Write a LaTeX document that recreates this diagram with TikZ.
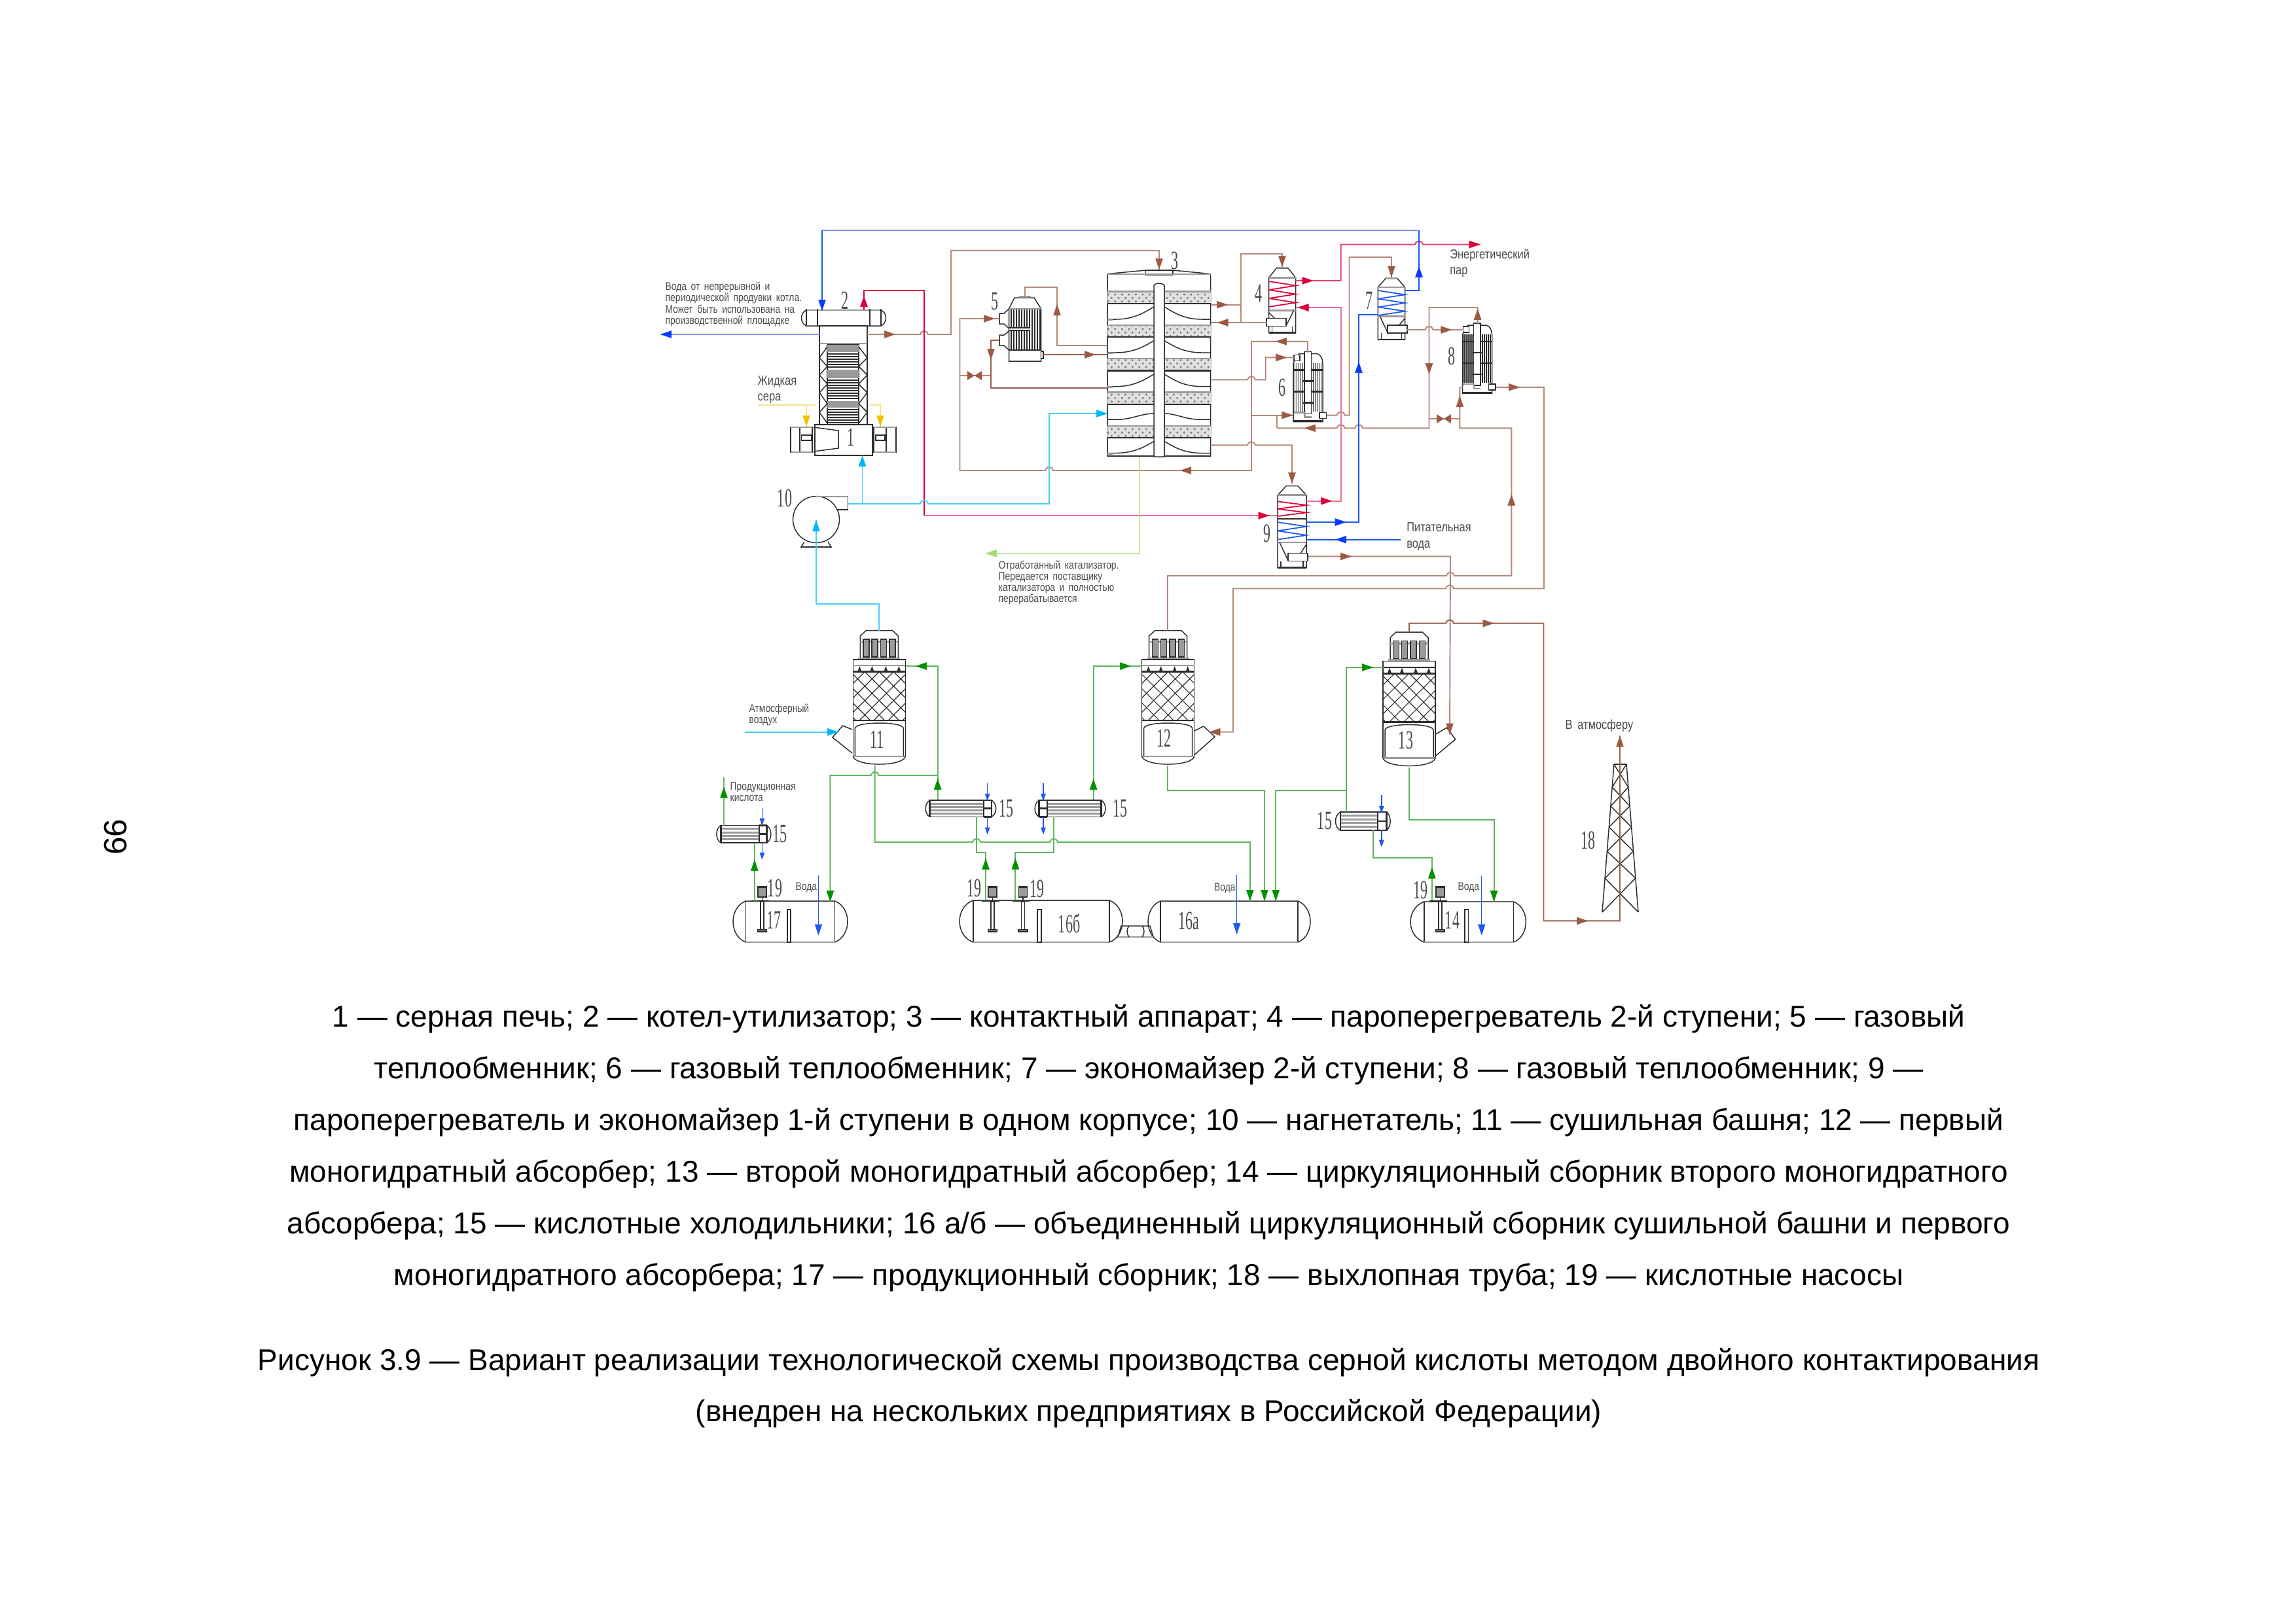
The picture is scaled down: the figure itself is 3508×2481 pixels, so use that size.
\documentclass[tikz,border=0pt]{standalone}
\usepackage{fontspec}
\usepackage{xcolor}
\setmainfont{Liberation Sans}
\newfontfamily\numfont[FakeStretch=0.55]{Liberation Serif}
\newfontfamily\notefont[FakeStretch=0.82,WordSpace=1.7]{Liberation Sans}
\usetikzlibrary{arrows.meta, patterns}

\definecolor{unitgrey}{HTML}{2E2E2E}
\definecolor{bandgrey}{HTML}{9A9A9A}
\definecolor{labelgrey}{HTML}{4A4A4A}
\definecolor{gasline}{HTML}{B28A79}
\definecolor{gastip}{HTML}{9C5A43}
\definecolor{gasdark}{HTML}{96604C}
\definecolor{steamline}{HTML}{E8406A}
\definecolor{steamlight}{HTML}{EC6F8F}
\definecolor{steamtip}{HTML}{DC0038}
\definecolor{waterline}{HTML}{1E58F0}
\definecolor{waterlight}{HTML}{7C9BF5}
\definecolor{watertip}{HTML}{0A3CFF}
\definecolor{airline}{HTML}{45CFFA}
\definecolor{airtip}{HTML}{00B8F8}
\definecolor{acidline}{HTML}{5DB85D}
\definecolor{acidtip}{HTML}{009000}
\definecolor{sulfurline}{HTML}{F7E484}
\definecolor{sulfurtip}{HTML}{EDC400}
\definecolor{catline}{HTML}{C5E8A5}
\definecolor{cattip}{HTML}{A5DD70}

\tikzset{
    unitline/.style={draw=unitgrey, line width=0.42pt},
    latticeline/.style={draw=unitgrey, line width=0.34pt},
    boldline/.style={draw=unitgrey, line width=0.8pt},
    greyline/.style={draw=bandgrey, line width=0.8pt},
    pipe/.style={line width=0.55pt},
    flowtip/.style={line width=0.2pt, -{Triangle[length=1.7mm,width=1.15mm]}},
    smalltip/.style={line width=0.4pt, -{Triangle[length=1.1mm,width=0.75mm]}},
    numlabel/.style={font=\numfont\fontsize{11.4}{12}\selectfont, text=labelgrey, inner sep=0pt},
    smallnote/.style={font=\notefont\fontsize{4.8}{4.92}\selectfont, text=labelgrey, inner sep=0pt, anchor=west, align=left},
    midnote/.style={font=\notefont\fontsize{5.7}{6}\selectfont, text=labelgrey, inner sep=0pt, anchor=west, align=left},
    legendline/.style={font=\fontsize{13.08}{15}\selectfont, inner sep=0pt, anchor=base}
}

% pipe jumps over a crossing line
\newcommand{\hopr}[2]{-- ({#1-6},#2) .. controls ({#1-4},{#2-7}) and ({#1+4},{#2-7}) .. ({#1+6},#2)}
\newcommand{\hopl}[2]{-- ({#1+6},#2) .. controls ({#1+4},{#2-7}) and ({#1-4},{#2-7}) .. ({#1-6},#2)}

\newcommand{\valveh}[3]{\fill[gastip] (#1-11,#2-7) -- (#1-11,#2+7) -- (#1+11,#2-7) -- (#1+11,#2+7) -- cycle;}
\newcommand{\valvev}[2]{\fill[gastip] (#1-7,#2-14) -- (#1+7,#2-14) -- (#1-7,#2+14) -- (#1+7,#2+14) -- cycle;}

% zigzag coil: xl xr ytop ybot turns colour
\newcommand{\coil}[6]{
    \foreach \k in {1,...,#5} {
        \draw[#6, line width=0.5pt] (#1,{#3+(\k-1)*(#4-#3)/#5}) -- (#2,{#3+(\k-0.5)*(#4-#3)/#5}) -- (#1,{#3+\k*(#4-#3)/#5});
    }
}

% coil vessel: centre halfwidth ycap yshoulder yhopper ybottom side
\newcommand{\shellunit}[7]{
    \begin{scope}[shift={(#1,0)}, xscale=#7]
    \draw[unitline] (-#2,#6) -- (-#2,#4) -- (-9,#3+2) -- (9,#3+2) -- (#2,#4) -- (#2,#6) -- cycle;
    \fill[bandgrey] (-9,#3) rectangle (9,#3+2);
    \draw[greyline] (-#2,#4) -- (#2,#4);
    \draw[greyline] (-#2,#5) -- (#2,#5);
    \draw[unitline] (-#2+3,#5) -- (-6,#6-11);
    \draw[unitline, fill=white] (-6,#6-22) rectangle (24,#6-10);
    \draw[unitline] (#2,#5+3) -- (#2-9,#6-22);
    \draw[boldline] (-#2,#6) -- (#2,#6);
    \draw[unitline] (-#2+5,#6-10) -- (-#2+5,#6);
    \draw[unitline] (#2-5,#6-10) -- (#2-5,#6);
    \end{scope}
}

% tube exchanger, from the top centre
\newcommand{\tubeunit}[2]{
    \begin{scope}[shift={(#1,#2)}]
    \draw[unitline] (-22.5,104) -- (-22.5,14) -- (-14,0) -- (14,0) .. controls (20,2) and (22,8) .. (22.5,14) -- (22.5,104) -- cycle;
    \foreach \tx in {-20,-17,-14,-11,-8,8,11,14,17,20} {\draw[unitline] (\tx,14) -- (\tx,88);}
    \draw[unitline, fill=white] (-5.5,-3) rectangle (5,92);
    \draw[boldline] (-22,25) -- (-5.5,25);
    \draw[boldline] (5,25) -- (22,25);
    \draw[boldline] (-9,42) -- (9,42);
    \draw[boldline] (-22,58) -- (-5.5,58);
    \draw[boldline] (5,58) -- (22,58);
    \draw[boldline] (-9,75) -- (9,75);
    \draw[unitline, fill=white] (-21.5,2) rectangle (-12.5,11);
    \draw[greyline] (-22,90) -- (-5,90) -- (-5,97) -- (5,97);
    \draw[boldline] (-22.5,103) -- (22.5,103);
    \draw[unitline, fill=white] (17.5,90) rectangle (28,99);
    \end{scope}
}

% absorber tower, centre and vertical offset
\newcommand{\tower}[2]{
    \begin{scope}[shift={(#1,#2)}]
    \draw[unitline] (-29,1006) -- (-29,972) -- (-20,963.5) -- (20,963.5) -- (29,972) -- (29,1006);
    \draw[greyline] (-32,1006) -- (32,1006);
    \draw[greyline] (-29,981) -- (29,981);
    \foreach \cx in {-24.4,-11.4,2.2,15.6} {
        \draw[unitline, fill=bandgrey] (\cx,977) rectangle ++(9,27);
    }
    \draw[unitline] (-40,1008) rectangle (40,1156);
    \foreach \cx in {-30,-11,10,30} {
        \fill[unitgrey] (\cx-3,1026) -- (\cx,1018) -- (\cx+3,1026) -- cycle;
    }
    \begin{scope}
    \clip (-40,1026.6) rectangle (40,1100);
    \foreach \k in {-6,...,6} {
        \draw[latticeline] ({\k*22},1026.6) -- ++(73.4,73.4);
        \draw[latticeline] ({\k*22},1026.6) -- ++(-73.4,73.4);
    }
    \end{scope}
    \draw[boldline] (-40,1026.6) -- (40,1026.6);
    \draw[boldline] (-40,1101) -- (40,1101);
    \draw[unitline] (-37,1156) -- (-37,1113) .. controls (-36,1107) and (-15,1105) .. (0,1105) .. controls (15,1105) and (36,1107) .. (37,1113) -- (37,1156);
    \draw[greyline] (-40,1156) -- (40,1156);
    \draw[unitline] (-40,1156) .. controls (-36,1172) and (36,1172) .. (40,1156);
    \end{scope}
}

% horizontal cooler: xl f1 f3 xr yt yb box1 box2
\newcommand{\cooler}[8]{
    \draw[unitline] (#2,#5) .. controls (#1-2,#5+5) and (#1-2,#6-5) .. (#2,#6);
    \draw[unitline] (#3,#5) .. controls (#4+2,#5+5) and (#4+2,#6-5) .. (#3,#6);
    \draw[unitline] (#2,#5) rectangle (#3,#6);
    \foreach \f in {0.2,0.4,0.6,0.8} {\draw[greyline] (#2,{#5+\f*(#6-#5)}) -- (#3,{#5+\f*(#6-#5)});}
    \fill[white] (#7,#5) rectangle (#8,#6);
    \draw[boldline] (#7,{(#5+#6)/2}) -- (#8,{(#5+#6)/2});
    \foreach \f in {#2,#3,#7,#8} {\draw[boldline] (\f,#5-1) -- (\f,#6+1);}
    \draw[boldline] (#7,#5) -- (#8,#5);
    \draw[boldline] (#7,#6) -- (#8,#6);
}

% horizontal tank: xl xa xb xr yt yb
\newcommand{\tank}[6]{
    \draw[unitline] (#2,#5) .. controls ({#2+(#1-#2)*1.33},#5+10) and ({#2+(#1-#2)*1.33},#6-10) .. (#2,#6) -- (#3,#6) .. controls ({#3+(#4-#3)*1.33},#6-10) and ({#3+(#4-#3)*1.33},#5+10) .. (#3,#5) -- cycle;
    \draw[unitline] (#2,#5) -- (#2,#6);
    \draw[unitline] (#3,#5) -- (#3,#6);
    \draw[greyline] (#2,#6) -- (#3,#6);
}

\newcommand{\pump}[1]{
    \draw[unitline, fill=bandgrey] (#1-6.5,1354.5) rectangle (#1+6.5,1371);
    \draw[boldline] (#1-6.5,1355.5) -- (#1+6.5,1355.5);
    \draw[unitline] (#1,1371) -- (#1,1376);
    \draw[boldline] (#1-16.5,1377) -- (#1+10,1377);
    \draw[unitline] (#1-2.5,1378) rectangle (#1+2.5,1421);
    \draw[unitline, fill=bandgrey] (#1-7,1421) rectangle (#1+7,1424);
}

\newcommand{\baffle}[2]{\draw[unitline, fill=white] (#1,1390) rectangle (#2,1440);}

\begin{document}
\begin{tikzpicture}[x=0.01cm, y=-0.01cm]
\useasboundingbox (0,0) rectangle (3508,2481);

% ports
\foreach \pname/\px/\py in {
    drumin/1256/474, drumsteam/1320/474, boilerblue/1253/511, boilergas/1325/511, blowdown/1009/511,
    sulfurin/1158/619, sulfurwall/1246/619, sulfurbr/1232/619, sulfurhi/1329/619, sulfurend/1345/652, sulfurtipa/1232/652,
    fanout/1296/770, furnacein/1317.5/696, fanbranch/1317.5/770, fanin/1247/795,
    colgas/1771/412, colair/1692/632, col5a/1692/528, col5b/1692/542, col5c/1692/593,
    col1out/1849.5/465.7, col1ret/1849.5/493, col2out/1849.5/580.4, col3out/1849.5/680.4, colbottom/1741/698, catout/1506/845.7,
    hx5topout/1565.6/455, hx5a/1527/487, hx5b/1527/520, hx5c/1594/542,
    hx4top/1959/408, hx4ret/1935.6/493, hx4steam/1979.7/429, hx4back/1979.7/470, steamout/2261.5/373.6,
    hx6in/1977/546.4, hx6top/1998/539, hx6low/1975.4/634.6, hx6out/2026.6/634.6,
    hx7top/2126/423.6, hx7blue/2105.5/481, hx7steam/2146.7/444, hx7out/2149/504,
    hx8in/2236/504, hx8top/2257.6/496, hx8low/2235/592.5, hx8out/2286/591.8,
    hx9top/1974/739, hx9steamin/1952/788, hx9steamout/1996/765.7, hx9blueout/1996/798, hx9bluein/1996/824.6, hx9gas/1999/850.4, feedwater/2139.5/824.6,
    t11top/1343.4/963.5, t11air/1281/1118.7, airin/1138/1118.7, t11spray/1383.6/1018, t11drain/1336.7/1169.5,
    t12top/1784/963.5, t12gas/1847.4/1118.7, t12spray/1745/1018, t12drain/1784/1169.5,
    t13top/2153/965.7, t13gas/2215/1122.5, t13spray/2113.5/1020, t13drain/2153/1172.5,
    ca-top/1432.7/1222, ca-low/1491.6/1248, cb-top/1670.6/1222, cb-low/1610/1248,
    cc-top/1106/1261.6, cc-low/1152.8/1288, product/1106/1187.5, cd-top/2056.6/1241, cd-low/2098.4/1269,
    jn-a/1432.7/1185, jn-b/2056.6/1208,
    t17in/1268.4/1378, t17pump/1152.8/1377, t16bp1/1506/1375.5, t16bp2/1551.4/1375.5,
    t16a1/1909.8/1377, t16a2/1932/1377, t16a3/1949.3/1377, t14pump/2187.8/1375.5, t14in/2282.6/1378,
    stacktop/2475/1124.4,
    wa1/1508.6/1196.5, wa2/1508.6/1224, wa3/1508.6/1248.4, wa4/1508.6/1275.5,
    wb1/1594/1196.5, wb2/1594/1224, wb3/1594/1248.4, wb4/1594/1275.5,
    wc1/1164.4/1235, wc2/1164.4/1261.6, wc3/1164.4/1288, wc4/1164.4/1314,
    wd1/2110.8/1214.6, wd2/2110.8/1242.8, wd3/2110.8/1269, wd4/2110.8/1294.7,
    ws1/1250.5/1338, ws2/1250.5/1429.6, ws3/1889.7/1337, ws4/1889.7/1428, ws5/2263.7/1338.6, ws6/2263.7/1429.6} {
    \coordinate (\pname) at (\px,\py);
}

% boiler 2 with furnace 1
\draw[unitline] (1232,474) .. controls (1222,478) and (1222,494) .. (1232,498) -- (1346,498) .. controls (1356,494) and (1356,478) .. (1346,474) -- cycle;
\draw[greyline] (1232,474) -- (1346,474);
\foreach \fx in {1232,1249,1329,1346} {\draw[boldline] (\fx,472) -- (\fx,499);}
\draw[unitline] (1252,498) rectangle (1325,649);
\draw[greyline] (1252,525) -- (1325,525);
\draw[unitline] (1264,527) rectangle (1312,649);
\foreach \ba/\bb in {527/538, 565/578, 613/623} {\fill[bandgrey] (1264,\ba) rectangle (1312,\bb);}
\foreach \sy in {541,545,...,563, 581,585,...,611, 626,630,...,648} {\draw[unitline] (1264,\sy) -- (1312,\sy);}
\draw[unitline] (1264,530) -- (1252,546.7) -- (1264,560) -- (1252,573) -- (1264,587) -- (1252,600) -- (1264,617) -- (1252,630) -- (1264,647);
\draw[unitline] (1312,530) -- (1325,546.7) -- (1312,560) -- (1325,573) -- (1312,587) -- (1325,600) -- (1312,617) -- (1325,630) -- (1312,647);
\draw[unitline] (1245,649) rectangle (1333,696);
\draw[boldline] (1245,696) -- (1333,696);
\draw[unitline] (1243,653) -- (1281,658) -- (1281,685) -- (1243,690);
\foreach \fx in {1208,1222,1241,1335,1354,1369} {\draw[boldline] (\fx,652) -- (\fx,692);}
\draw[greyline] (1208,653) -- (1241,653);
\draw[greyline] (1208,691) -- (1241,691);
\draw[greyline] (1335,653) -- (1369,653);
\draw[greyline] (1335,691) -- (1369,691);
\draw[unitline] (1224.5,665) rectangle (1240,673);
\draw[unitline] (1338,665) rectangle (1352,673);

% fan 10
\draw[unitline] (1247,794) circle (35.5);
\draw[greyline] (1247,759) -- (1295.7,759);
\draw[unitline] (1295.7,759) -- (1295.7,779);
\draw[boldline] (1295.7,779) -- (1278,779);
\draw[unitline] (1229,828) -- (1224,836) -- (1270,836) -- (1265,828);
\draw[boldline] (1224,836) -- (1270,836);

% exchanger 5
\draw[unitline] (1541.5,472) -- (1550,455) -- (1580,455) -- (1590.6,472) -- (1590.6,552) -- (1541.5,552) -- cycle;
\fill[bandgrey] (1557,452) rectangle (1575,455);
\foreach \tx in {1545,1549,...,1589} {\draw[unitline] (\tx,473) -- (\tx,534);}
\draw[greyline] (1541.5,472) -- (1590.6,472);
\draw[boldline] (1541.5,535) -- (1590.6,535);
\fill[white] (1541.5,501) rectangle (1575,505);
\draw[boldline] (1541.5,501) -- (1574,501);
\draw[boldline] (1541.5,505) -- (1574,505);
\draw[unitline, fill=white] (1590.6,537) rectangle (1594,548);
\draw[unitline] (1541.5,472) -- (1534,479) -- (1527,479) -- (1527,495) -- (1534,495) -- (1541.5,502);
\draw[unitline] (1541.5,506) -- (1534,512) -- (1527,512) -- (1527,528) -- (1534,528) -- (1541.5,535);

% contact column 3
\draw[unitline] (1692,698) -- (1692,418.6) -- (1750.5,413) -- (1792,413) -- (1849.5,418.6) -- (1849.5,698);
\draw[unitline, fill=white] (1750.5,413) rectangle (1792,420);
\draw[greyline] (1692,419) -- (1849.5,419);
\foreach \ba/\bb in {445.4/464, 497/515, 548/566.4, 599.6/618, 651/669} {
    \fill[black!12] (1692,\ba) rectangle (1849.5,\bb);
    \draw[draw=none, pattern=crosshatch dots, pattern color=gray] (1692,\ba) rectangle (1763,\bb);
    \draw[draw=none, pattern=crosshatch dots, pattern color=gray] (1779,\ba) rectangle (1849.5,\bb);
    \draw[greyline] (1692,\ba) -- (1849.5,\ba);
    \draw[boldline] (1692,\bb) -- (1849.5,\bb);
}
\foreach \pa/\pb in {488/469, 539/520.7, 590.7/572, 692.5/674.6} {
    \draw[unitline] (1692,\pa) -- (1705,\pa) .. controls (1735,\pa) and (1752,\pb+6) .. (1763,\pb);
    \draw[unitline] (1849.5,\pa) -- (1836,\pa) .. controls (1806,\pa) and (1790,\pb+6) .. (1779,\pb);
    \draw[greyline] (1692,\pa+1) -- (1700,\pa+1);
}
\draw[unitline] (1692,641) -- (1712,641) .. controls (1730,640) and (1745,632) .. (1763,632);
\draw[unitline] (1849.5,641) -- (1829,641) .. controls (1810,640) and (1795,632) .. (1779,632);
\draw[boldline] (1692,697) -- (1849.5,697);
\draw[unitline, fill=white] (1763,698) -- (1763,436) .. controls (1766,432) and (1776,432) .. (1779,436) -- (1779,698) -- cycle;

% vessels 4, 7, 9 and exchangers 6, 8
\shellunit{1959.1}{20.6}{408}{424.6}{474.6}{508.6}{-1}
\coil{1938.5}{1979.7}{430}{469}{3}{steamtip}
\shellunit{2126}{20.6}{423.6}{439}{483.6}{519}{1}
\coil{2105.5}{2146.7}{444}{482}{3}{waterline}
\shellunit{1974}{22}{740.7}{756.8}{829}{867.5}{1}
\coil{1952}{1996}{766.4}{789}{2}{steamtip}
\draw[boldline] (1952,793) -- (1996,793);
\coil{1952}{1996}{798}{824.6}{2}{waterline}
\tubeunit{1998.5}{540.7}
\tubeunit{2257}{497}

% towers 11, 12, 13
\tower{1343.4}{0}
\draw[greyline] (1303.4,1017) -- (1383.4,1017);
\draw[unitline] (1302,1115) -- (1287.6,1109) -- (1272,1127) -- (1302,1151);
\tower{1784.7}{0}
\draw[greyline] (1744.7,1017) -- (1824.7,1017);
\draw[unitline] (1825,1117) -- (1839,1110) -- (1856,1126) -- (1825,1153.7);
\tower{2153}{2.5}
\draw[boldline] (2113,1020) -- (2193,1020);
\draw[unitline] (2193,1122.5) -- (2210.6,1112) -- (2223.6,1130) -- (2193,1155.6);

% coolers 15
\cooler{1414}{1420.6}{1515}{1522}{1223}{1248.4}{1503}{1515}
\cooler{1581}{1587.6}{1682.7}{1689}{1223}{1248.4}{1587.6}{1600}
\cooler{1094.7}{1101.4}{1171.5}{1178}{1261.6}{1288}{1160}{1171.5}
\cooler{2040}{2048}{2118.4}{2124}{1241}{1269}{2105}{2118.4}

% tanks and pumps
\tank{1120}{1139.4}{1275.5}{1295}{1377}{1440}
\tank{1466}{1487}{1695}{1715}{1376}{1440}
\tank{1754}{1773}{1983}{2002}{1377}{1440}
\tank{2155}{2176}{2312.5}{2331.4}{1378}{1440}
\baffle{1202.8}{1208}
\baffle{1585}{1591}
\baffle{2238}{2243.6}
\pump{1164.5}
\pump{1516.5}
\pump{1563}
\pump{2200.5}
\draw[unitline] (1708,1432) -- (1713,1415) -- (1757,1415) -- (1762,1432) -- cycle;
\draw[greyline] (1708,1432) -- (1762,1432);
\draw[unitline] (1725,1415) .. controls (1721,1420) and (1721,1427) .. (1725,1432);
\draw[unitline] (1745,1415) .. controls (1749,1420) and (1749,1427) .. (1745,1432);

% stack 18
\draw[unitline] (2466,1168) -- (2448,1394);
\draw[unitline] (2485,1168) -- (2503,1394);
\draw[boldline] (2466,1168) -- (2485,1168);
\foreach \yb [remember=\yb as \ya (initially 1168)] in {1203,1232,1264,1301,1342,1394} {
    \pgfmathsetmacro{\wa}{9.5+(\ya-1168)*18/226}
    \pgfmathsetmacro{\wb}{9.5+(\yb-1168)*18/226}
    \draw[unitline] ({2475.5-\wa},\ya) -- ({2475.5+\wb},\yb);
    \draw[unitline] ({2475.5+\wa},\ya) -- ({2475.5-\wb},\yb);
}

% gas pipes
\draw[pipe, gasline] (boilergas) \hopr{1412}{511} -- (1453,511) -- (1453,383) -- (1771,383) -- (colgas);
\draw[pipe, gasline] (col1ret) -- (hx4ret);
\draw[pipe, gasline] (col1out) -- (1896.4,465.7) -- (1896.4,388) -- (1959,388) -- (hx4top);
\draw[pipe, gasline] (1896.4,465.7) -- (1896.4,493);
\draw[pipe, gasline] (col2out) \hopr{1912}{580.4} -- (1933.7,580.4) -- (1933.7,546.4) -- (hx6in);
\draw[pipe, gasline] (col3out) \hopr{1912}{680.4} -- (1974,680.4) -- (hx9top);
\draw[pipe, gasline] (1912,634.6) -- (hx6low);
\draw[pipe, gasline] (1951.4,634.6) -- (1951.4,654.3);
\draw[pipe, gasline] (hx6top) -- (1998,521.8) -- (1912,521.8) -- (1912,719) \hopl{1603}{719} -- (1466.5,719) -- (1466.5,487) -- (hx5a);
\draw[pipe, gasline] (1466.5,574) -- (1514,574);
\draw[pipe, gasdark] (col5c) -- (1514,593) -- (1514,520) -- (hx5b);
\draw[pipe, gasline] (hx5topout) -- (1565.6,439) -- (1615,439) -- (1615,528) -- (col5a);
\draw[pipe, gasdark] (hx5c) -- (col5b);
\draw[pipe, gasline] (hx6out) \hopr{2048.6}{634.6} -- (2061.5,634.6) -- (2061.5,393) -- (2126,393) -- (hx7top);
\draw[pipe, gasline] (hx7out) \hopr{2183.5}{504} -- (hx8in);
\draw[pipe, gasline] (hx8top) -- (2257.6,470) -- (2183.5,470) -- (2183.5,654.3) \hopl{2076}{654.3} \hopl{2048.6}{654.3} -- (1951.4,654.3);
\draw[pipe, gasline] (2183.5,640) -- (2230.4,640);
\draw[pipe, gasline] (hx8low) -- (2230.4,592.5) -- (2230.4,654.3) -- (2309.3,654.3) -- (2309.3,880) \hopl{2216}{880} -- (1784,880) -- (t12top);
\draw[pipe, gasline] (hx8out) -- (2359,591.8) -- (2359,899.5) \hopl{2215}{899.5} -- (1884,899.5) -- (1884,1118.7) -- (t12gas);
\draw[pipe, gasline] (hx9gas) -- (2216,850.4) -- (t13gas);
\draw[pipe, gasdark] (t13top) -- (2153,952.6) \hopr{2215}{952.6} -- (2358.5,952.6) -- (2358.5,1407.4) -- (2475,1407.4) -- (stacktop);
\valveh{1489}{574}
\valveh{1929}{634.6}
\valveh{2206}{640}
\valvev{1896.4}{481}
\foreach \xa/\ya/\xb/\yb in {1350/511/1368/511, 1771/395/1771/412, 1503/487/1520/487, 1514/533/1514/550,
    1615/482/1615/465, 1655/542/1674/542, 1859.6/465.7/1876/465.7, 1959/391.5/1959/408, 1876/493/1859.6/493,
    1966/521.8/1949/521.8, 1949/546.4/1966/546.4, 1958.6/634.6/1975.4/634.6, 2010/654.3/1993/654.3,
    1974/723/1974/739, 1822/719/1803/719, 2126/407/2126/423.6, 2201/504/2218.4/504, 2183.5/555.7/2183.5/572,
    2257.6/489/2257.6/471.8, 2230.4/622/2230.4/605, 2305.5/591.8/2322/591.8, 2309.3/773/2309.3/755.7,
    2046/850.4/2065/850.4, 2215/1105.6/2215/1122.5, 1864/1118.7/1847.4/1118.7, 2265/952.6/2282.6/952.6,
    2408.4/1407.4/2426/1407.4, 2475/1142/2475/1124.4} {
    \draw[flowtip, gastip] (\xa,\ya) -- (\xb,\yb);
}

% steam pipes
\draw[pipe, steamtip] (drumsteam) -- (1320,444) -- (1412,444) -- (1412,788);
\draw[pipe, steamlight] (1412,788) -- (hx9steamin);
\draw[pipe, steamline] (hx4steam) -- (2048.6,429) -- (2048.6,373.6) \hopr{2168}{373.6} -- (steamout);
\draw[pipe, steamlight] (hx9steamout) -- (2048.6,765.7) -- (2048.6,470) -- (hx4back);
\foreach \xa/\ya/\xb/\yb in {1320/468/1320/452, 1989.7/429/2006.5/429, 2244.7/373.6/2261.5/373.6,
    2001.7/470/1982.5/470, 2018/765.7/2035/765.7, 1921/788/1939.5/788} {
    \draw[flowtip, steamtip] (\xa,\ya) -- (\xb,\yb);
}

% water pipes
\draw[pipe, waterlight] (boilerblue) -- (blowdown);
\draw[pipe, waterline] (hx7steam) -- (2168,444) -- (2168,352);
\draw[pipe, waterlight] (2168,352) -- (1256,352);
\draw[pipe, waterline] (1256,352) -- (drumin);
\draw[pipe, waterline] (hx9blueout) -- (2076,798) -- (2076,481) -- (hx7blue);
\draw[pipe, waterline] (feedwater) -- (hx9bluein);
\foreach \xa/\ya/\xb/\yb in {1256/458/1256/475, 1026/511/1009/511, 2168/424.6/2168/406.8, 2076/571/2076/553,
    2038.5/798/2056.7/798, 2056.7/824.6/2040/824.6} {
    \draw[flowtip, watertip] (\xa,\ya) -- (\xb,\yb);
}
\foreach \wa/\wb in {wa1/wa2, wa3/wa4, wb1/wb2, wb3/wb4, wc1/wc2, wc3/wc4, wd1/wd2, wd3/wd4} {
    \draw[smalltip, waterline] (\wa) -- (\wb);
}
\foreach \wa/\wb in {ws1/ws2, ws3/ws4, ws5/ws6} {
    \draw[line width=0.4pt, waterline, -{Triangle[length=1.7mm,width=1.1mm]}] (\wa) -- (\wb);
}

% air pipes
\draw[pipe, airline] (fanout) \hopr{1412}{770} -- (1603,770) -- (1603,632) -- (colair);
\draw[pipe, airline] (fanbranch) -- (furnacein);
\draw[pipe, airline] (t11top) -- (1343.4,923) -- (1247,923) -- (fanin);
\draw[pipe, airline] (airin) -- (t11air);
\foreach \xa/\ya/\xb/\yb in {1317.5/712/1317.5/696, 1675/632/1692/632, 1247/812/1247/795, 1264/1118.7/1281/1118.7} {
    \draw[flowtip, airtip] (\xa,\ya) -- (\xb,\yb);
}

% sulfur and spent catalyst
\draw[pipe, sulfurline] (sulfurin) -- (sulfurwall);
\draw[pipe, sulfurline] (sulfurbr) -- (sulfurtipa);
\draw[pipe, sulfurline] (sulfurhi) -- (1345,619) -- (sulfurend);
\foreach \xa/\ya/\xb/\yb in {1232/636/1232/652, 1345/636/1345/652} {
    \draw[flowtip, sulfurtip] (\xa,\ya) -- (\xb,\yb);
}
\draw[pipe, catline] (colbottom) -- (1741,845.7) -- (catout);
\draw[flowtip, cattip] (1522.7,845.7) -- (catout);

% acid pipes
\draw[pipe, acidline] (t11spray) -- (1432.7,1018) -- (ca-top);
\draw[pipe, acidline] (jn-a) \hopl{1336.7}{1185} -- (1268.4,1185) -- (t17in);
\draw[pipe, acidline] (t11drain) -- (1336.7,1287) \hopr{1492}{1287} \hopr{1610}{1287} -- (1909.8,1287) -- (t16a1);
\draw[pipe, acidline] (ca-low) -- (1491.6,1303) -- (1506,1303) -- (t16bp1);
\draw[pipe, acidline] (cb-low) -- (1610,1303) -- (1551.4,1303) -- (t16bp2);
\draw[pipe, acidline] (cb-top) -- (1670.6,1018) -- (t12spray);
\draw[pipe, acidline] (cc-top) -- (product);
\draw[pipe, acidline] (cc-low) -- (t17pump);
\draw[pipe, acidline] (t12drain) -- (1784,1208) -- (1932,1208) -- (t16a2);
\draw[pipe, acidline] (t13spray) -- (2056.6,1020) -- (cd-top);
\draw[pipe, acidline] (jn-b) -- (1949.3,1208) -- (t16a3);
\draw[pipe, acidline] (cd-low) -- (2098.4,1311) -- (2187.8,1311) -- (t14pump);
\draw[pipe, acidline] (t13drain) -- (2153,1253) -- (2282.6,1253) -- (t14in);
\foreach \xa/\ya/\xb/\yb in {1415/1018/1399/1018, 1432.7/1207/1432.7/1190, 1268.4/1360/1268.4/1378, 1909.8/1360.5/1909.8/1377,
    1506/1329/1506/1312, 1551.4/1328/1551.4/1311.6, 1670.6/1207/1670.6/1190, 1712.6/1018/1728/1018, 1106/1220/1106/1202.5,
    1152.8/1331/1152.8/1314, 1932/1360/1932/1377, 1949.3/1360/1949.3/1377, 2081/1020/2098/1020, 2187.8/1342.4/2187.8/1325.5,
    2282.6/1361/2282.6/1378} {
    \draw[flowtip, acidtip] (\xa,\ya) -- (\xb,\yb);
}

% numbers on the units
\foreach \nname/\nx/\ny/\ntext in {n1/1300/668/1, n2/1291/459/2, n3/1794.5/398/3, n4/1923/448.6/4, n5/1520/461/5, n6/1958.6/592/6,
    n7/2092/459/7, n8/2218/544/8, n9/1936/815.7/9, n10/1199/761/10, n11/1340/1130/11, n12/1778.6/1128/12, n13/2148/1131/13,
    n14/2219/1406/14, n15a/1537.6/1235/15, n15b/1711.7/1235/15, n15c/1191.6/1274/15, n15d/2024/1254/15, n16a/1816.5/1407/16а,
    n16b/1633.6/1411/16б, n17/1182.7/1406/17, n18/2426.3/1284/18, n19a/1184/1357.4/19, n19b/1488.5/1357/19, n19c/1584.5/1358/19,
    n19d/2170.5/1360.4/19} {
    \node[numlabel] (\nname) at (\nx,\ny) {\ntext};
}

% notes on the scheme
\node[smallnote] (noteblow) at (1016,465) {Вода от непрерывной и\\периодической продувки котла.\\Может быть использована на\\производственной площадке};
\node[midnote] (notesulfur) at (1157,596) {Жидкая\\[0.9pt]сера};
\node[midnote] (notefeed) at (2148.6,820) {Питательная\\[0.9pt]вода};
\node[midnote] (notesteam) at (2214.6,402) {Энергетический\\[0.9pt]пар};
\node[smallnote] (notecat) at (1525,890.5) {Отработанный катализатор.\\Передается поставщику\\катализатора и полностью\\перерабатывается};
\node[smallnote] (noteair) at (1144,1092.5) {Атмосферный\\воздух};
\node[smallnote] (noteacid) at (1115,1210) {Продукционная\\кислота};
\node[smallnote] (notewa) at (1215,1356) {Вода};
\node[smallnote] (notewb) at (1854.5,1357.4) {Вода};
\node[smallnote] (notewc) at (2227,1356.7) {Вода};
\node[midnote] (notevent) at (2391,1109.3) {В атмосферу};

% legend under the scheme
\node[legendline] (legend1) at (1755,1569) {1 — серная печь; 2 — котел-утилизатор; 3 — контактный аппарат; 4 — пароперегреватель 2-й ступени; 5 — газовый};
\node[legendline] (legend2) at (1755,1648) {теплообменник; 6 — газовый теплообменник; 7 — экономайзер 2-й ступени; 8 — газовый теплообменник; 9 —};
\node[legendline] (legend3) at (1755,1727) {пароперегреватель и экономайзер 1-й ступени в одном корпусе; 10 — нагнетатель; 11 — сушильная башня; 12 — первый};
\node[legendline] (legend4) at (1755,1806) {моногидратный абсорбер; 13 — второй моногидратный абсорбер; 14 — циркуляционный сборник второго моногидратного};
\node[legendline] (legend5) at (1755,1885) {абсорбера; 15 — кислотные холодильники; 16 а/б — объединенный циркуляционный сборник сушильной башни и первого};
\node[legendline] (legend6) at (1755,1964) {моногидратного абсорбера; 17 — продукционный сборник; 18 — выхлопная труба; 19 — кислотные насосы};
\node[legendline] (caption1) at (1755,2094.6) {Рисунок 3.9 — Вариант реализации технологической схемы производства серной кислоты методом двойного контактирования};
\node[legendline] (caption2) at (1755,2172.8) {(внедрен на нескольких предприятиях в Российской Федерации)};
\node[legendline, font=\fontsize{14}{16}\selectfont, rotate=90] (pagenum) at (193,1279) {66};
\end{tikzpicture}
\end{document}
